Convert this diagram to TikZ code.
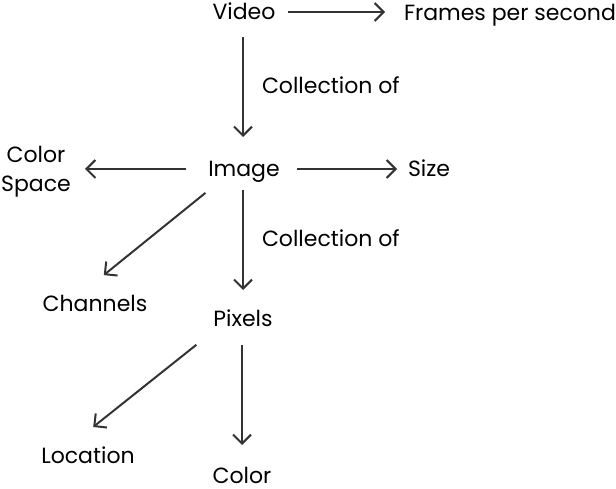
\documentclass[tikz,border=0pt]{standalone}
\usepackage{fontspec}
\setmainfont{Poppins}
\usetikzlibrary{arrows.meta}

\begin{document}
\begin{tikzpicture}[x=1pt,y=-1pt,font=\fontsize{22}{29}\selectfont,
  >={Straight Barb[length=9pt,width=18pt,line width=2pt]},
  nd/.style={inner sep=0pt,outer sep=0pt,text height=16pt,text depth=0pt},
  arr/.style={->,line width=2pt,black!80}]
  \useasboundingbox (0,0) rectangle (616,489);
  \node[nd] (vid) at (244,12) {Video};
  \node[nd,anchor=west] (fps) at (404,13) {Frames per second};
  \node[nd,anchor=west] (c1) at (262,86) {Collection of};
  \node[nd] (img) at (244,169) {Image};
  \node[inner sep=0pt,align=center,anchor=east] (cs) at (71,172) {Color\\Space};
  \node[nd,anchor=west] (sz) at (408,169) {Size};
  \node[nd,anchor=west] (c2) at (262,239) {Collection of};
  \node[nd] (ch) at (95,304) {Channels};
  \node[nd] (pix) at (243,318) {Pixels};
  \node[nd] (loc) at (88,455) {Location};
  \node[nd] (col) at (242,475) {Color};
  % arrows
  \draw[arr,shorten <=44pt,shorten >=19pt] (vid.center) -- (vid.center -| fps.west);
  \draw[arr,shorten <=25pt,shorten >=32pt] ([xshift=-1pt]vid.center) -- ([xshift=-1pt]img.center);
  \draw[arr,shorten <=58pt,shorten >=14pt] (img.center) -- (img.center -| cs.east);
  \draw[arr,shorten <=53pt,shorten >=11pt] (img.center) -- (img.center -| sz.west);
  \draw[arr,shorten <=38pt,shorten >=46pt] ([xshift=-9pt]img.center) -- ([xshift=-27pt]ch.center);
  \draw[arr,shorten <=21pt,shorten >=28pt] ([xshift=-1pt]img.center) -- (pix.center);
  \draw[arr,shorten <=43pt,shorten >=45pt] ([xshift=-13pt]pix.center) -- ([xshift=-30pt]loc.center);
  \draw[arr,shorten <=27pt,shorten >=30pt] ([xshift=-1pt]pix.center) -- (col.center);
\end{tikzpicture}
\end{document}
